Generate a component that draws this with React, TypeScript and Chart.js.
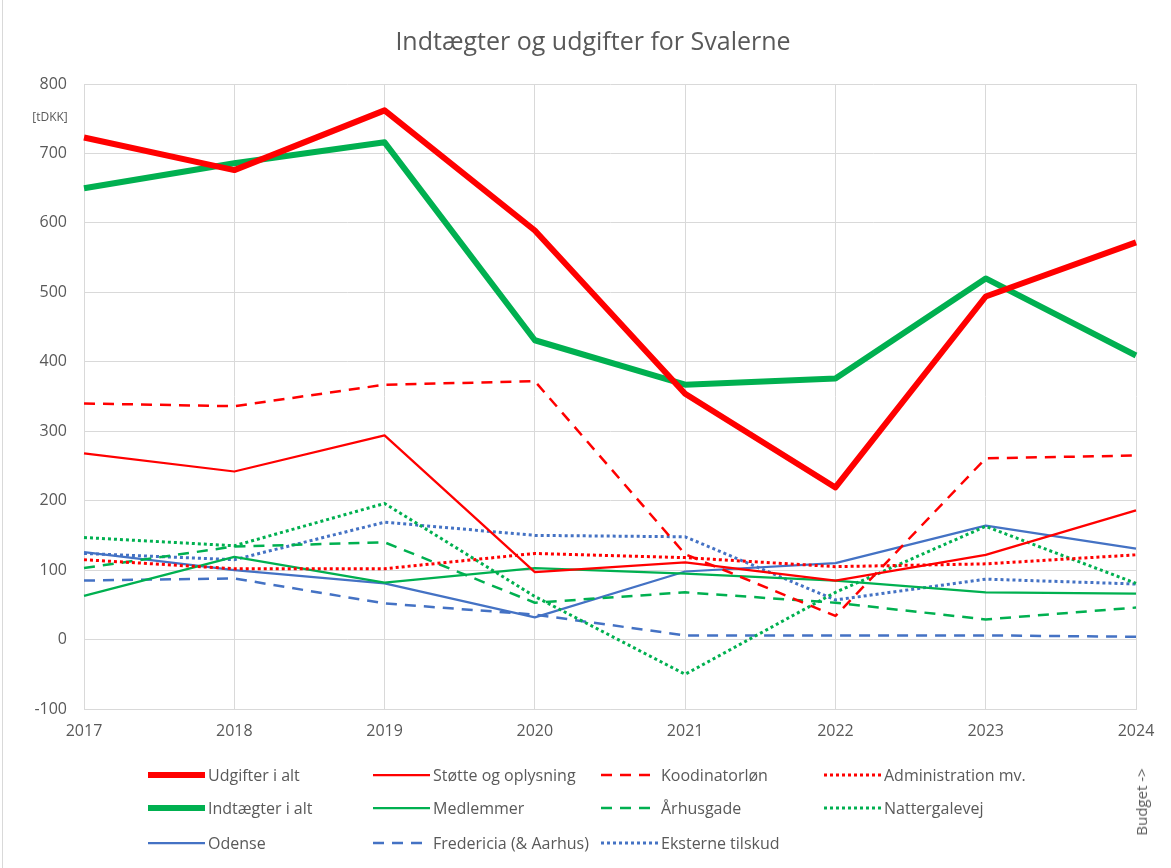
import React, { useEffect, useRef } from 'react';
import { Chart, registerables } from 'chart.js';

Chart.register(...registerables);

const years = ['2017', '2018', '2019', '2020', '2021', '2022', '2023', '2024'];
const yTicks = [-100, 0, 100, 200, 300, 400, 500, 600, 700, 800];

const udgifter = [723, 676, 762, 589, 354, 219, 494, 572];
const indtaegter = [650, 686, 716, 431, 367, 376, 520, 409];
const stotte = [268, 242, 294, 97, 111, 85, 122, 186];
const koordinator = [340, 336, 367, 372, 123, 34, 261, 265];
const administration = [115, 102, 102, 124, 118, 105, 109, 122];
const medlemmer = [63, 119, 82, 103, 95, 85, 68, 66];
const aarhusgade = [103, 134, 140, 53, 68, 53, 29, 46];
const nattergalevej = [147, 135, 196, 62, -50, 68, 163, 81];
const odense = [126, 100, 81, 32, 98, 110, 164, 131];
const fredericia = [85, 88, 52, 36, 6, 6, 6, 4];
const eksterne = [124, 115, 169, 150, 148, 57, 87, 80];

const RED = '#FF0000';
const GREEN = '#00B050';
const BLUE = '#4472C4';
const GRAY = '#595959';
const GRID = '#d9d9d9';
const FONT = '"Open Sans", "Noto Sans", sans-serif';

type LineStyle = 'thick' | 'solid' | 'dash' | 'dot';

const series: { label: string; data: number[]; color: string; style: LineStyle }[] = [
  { label: 'Udgifter i alt', data: udgifter, color: RED, style: 'thick' },
  { label: 'Støtte og oplysning', data: stotte, color: RED, style: 'solid' },
  { label: 'Koodinatorløn', data: koordinator, color: RED, style: 'dash' },
  { label: 'Administration mv.', data: administration, color: RED, style: 'dot' },
  { label: 'Indtægter i alt', data: indtaegter, color: GREEN, style: 'thick' },
  { label: 'Medlemmer', data: medlemmer, color: GREEN, style: 'solid' },
  { label: 'Århusgade', data: aarhusgade, color: GREEN, style: 'dash' },
  { label: 'Nattergalevej', data: nattergalevej, color: GREEN, style: 'dot' },
  { label: 'Odense', data: odense, color: BLUE, style: 'solid' },
  { label: 'Fredericia (& Aarhus)', data: fredericia, color: BLUE, style: 'dash' },
  { label: 'Eksterne tilskud', data: eksterne, color: BLUE, style: 'dot' },
];

function styleProps(style: LineStyle) {
  switch (style) {
    case 'thick':
      return { width: 6, dash: [] as number[] };
    case 'solid':
      return { width: 2.25, dash: [] as number[] };
    case 'dash':
      return { width: 2.5, dash: [11, 8] };
    default:
      return { width: 3, dash: [3, 3] };
  }
}

const legendCols = [148, 373, 601, 824];
const legendRows = [775, 808, 843];

export default function App() {
  const canvasRef = useRef<HTMLCanvasElement | null>(null);

  useEffect(() => {
    if (!canvasRef.current) return;
    const chart = new Chart(canvasRef.current, {
      type: 'line',
      data: {
        labels: years,
        datasets: series.map((s) => {
          const p = styleProps(s.style);
          return {
            label: s.label,
            data: s.data,
            borderColor: s.color,
            backgroundColor: s.color,
            borderWidth: p.width,
            borderDash: p.dash,
            pointRadius: 0,
            pointHoverRadius: 0,
            tension: 0,
            fill: false,
            borderJoinStyle: 'round' as const,
          };
        }),
      },
      options: {
        responsive: false,
        animation: false,
        layout: { padding: { top: 84, left: 0, right: 35, bottom: 109 } },
        plugins: {
          legend: { display: false },
          title: { display: false },
          tooltip: { enabled: false },
        },
        scales: {
          x: {
            type: 'category',
            offset: false,
            grid: { color: GRID, drawTicks: false, lineWidth: 1 },
            border: { color: GRID },
            ticks: {
              color: GRAY,
              font: { family: FONT, size: 16 },
              padding: 13,
              maxRotation: 0,
              autoSkip: false,
            },
            afterFit: (scale: any) => {
              scale.height = 50;
            },
          },
          y: {
            min: -100,
            max: 800,
            afterBuildTicks: (scale: any) => {
              scale.ticks = yTicks.map((v) => ({ value: v }));
            },
            grid: { color: GRID, drawTicks: false, lineWidth: 1 },
            border: { color: GRID },
            ticks: {
              color: GRAY,
              font: { family: FONT, size: 16 },
              padding: 17,
            },
            afterFit: (scale: any) => {
              scale.width = 84;
            },
          },
        },
      },
    });
    return () => chart.destroy();
  }, []);

  return (
    <div
      style={{
        position: 'absolute',
        left: 0,
        top: 0,
        width: 1171,
        height: 868,
        background: '#ffffff',
        fontFamily: FONT,
        overflow: 'hidden',
      }}
    >
      <div style={{ position: 'absolute', left: 2, top: 0, width: 1, height: 868, background: GRID }} />
      <canvas ref={canvasRef} width={1171} height={868} style={{ position: 'absolute', left: 0, top: 0 }} />
      <div
        style={{
          position: 'absolute',
          left: 15,
          top: 23,
          width: 1156,
          textAlign: 'center',
          fontSize: 25,
          color: GRAY,
        }}
      >
        Indtægter og udgifter for Svalerne
      </div>
      <div
        style={{
          position: 'absolute',
          left: 50,
          top: 116,
          transform: 'translate(-50%, -50%)',
          fontSize: 12,
          color: GRAY,
          whiteSpace: 'nowrap',
        }}
      >
        [tDKK]
      </div>
      <div
        style={{
          position: 'absolute',
          left: 1141,
          top: 802,
          transform: 'translate(-50%, -50%) rotate(-90deg)',
          fontSize: 15,
          color: GRAY,
          whiteSpace: 'nowrap',
        }}
      >
        Budget -&gt;
      </div>
      {series.map((s, i) => {
        const row = Math.floor(i / 4);
        const col = i % 4;
        const p = styleProps(s.style);
        return (
          <div
            key={s.label}
            style={{
              position: 'absolute',
              left: legendCols[col],
              top: legendRows[row] - 11,
              height: 22,
              display: 'flex',
              alignItems: 'center',
              fontSize: 16,
              color: GRAY,
              whiteSpace: 'nowrap',
            }}
          >
            <svg width={57} height={10} style={{ marginRight: 3 }}>
              <line
                x1={0}
                y1={5}
                x2={57}
                y2={5}
                stroke={s.color}
                strokeWidth={p.width}
                strokeDasharray={p.dash.length ? p.dash.join(' ') : undefined}
              />
            </svg>
            <span>{s.label}</span>
          </div>
        );
      })}
    </div>
  );
}
